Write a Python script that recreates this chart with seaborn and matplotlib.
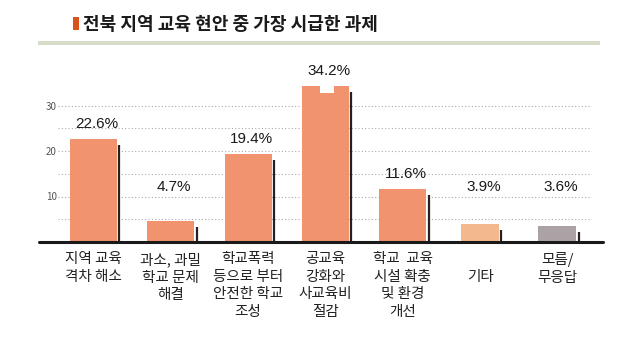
import matplotlib
matplotlib.use("Agg")
import matplotlib.pyplot as plt
from matplotlib.patches import Rectangle
import seaborn as sns
import pandas as pd

# ---- data ----
title = "전북 지역 교육 현안 중 가장 시급한 과제"
categories = [
    "지역 교육\n격차 해소",
    "과소, 과밀\n학교 문제\n해결",
    "학교폭력\n등으로 부터\n안전한 학교\n조성",
    "공교육\n강화와\n사교육비\n절감",
    "학교  교육\n시설 확충\n및 환경\n개선",
    "\n기타",
    "모름/\n무응답",
]
values = [22.6, 4.7, 19.4, 34.2, 11.6, 3.9, 3.6]
value_labels = ["22.6%", "4.7%", "19.4%", "34.2%", "11.6%", "3.9%", "3.6%"]
y_ticks = [10, 20, 30]

# ---- style ----
bar_colors = ["#F0936E", "#F0936E", "#F0936E", "#F0936E", "#F0936E", "#F3B98C", "#ABA2A5"]
bar_widths = [0.608, 0.608, 0.608, 0.608, 0.608, 0.49, 0.49]

sns.set_theme(style="white")
plt.rcParams["font.family"] = ["Noto Sans CJK KR", "DejaVu Sans"]

fig = plt.figure(figsize=(6.4, 3.38), dpi=100)
fig.patch.set_facecolor("white")
ax = fig.add_axes([58 / 640, (338 - 242) / 338, 534 / 640, 36 * 4.55 / 338])

df = pd.DataFrame({"cat": categories, "val": values})
sns.barplot(data=df, x="cat", y="val", hue="cat", palette=bar_colors,
            width=0.608, saturation=1, legend=False, ax=ax, linewidth=0)

ax.set_xlim(-0.459, 6.449)
ax.set_ylim(0, 36)

# adjust widths and add shadow lines, labels
patches = [c.patches[0] for c in ax.containers]
for i, (p, w, v, lab) in enumerate(zip(patches, bar_widths, values, value_labels)):
    cx = p.get_x() + p.get_width() / 2
    p.set_width(w)
    p.set_x(cx - w / 2)
    p.set_zorder(3)
    right = cx + w / 2
    ax.vlines(right + 0.032, 0, v - 1.3, color="#2a1f1f", lw=1.6, zorder=4)
    ax.text(cx + 0.045, max(v + 3.3, 12), lab, ha="center", va="center",
            fontsize=11, family=["Liberation Sans", "DejaVu Sans"], color="#1a1a1a")

# break notch on tallest bar
imax = values.index(max(values))
pm = patches[imax]
cxm = pm.get_x() + pm.get_width() / 2 + 0.02
ax.add_patch(Rectangle((cxm - 0.085, values[imax] - 1.55), 0.17, 2.0,
                       facecolor="white", edgecolor="none", zorder=3.5))

# axes styling
for s in ax.spines.values():
    s.set_visible(False)
ax.set_yticks(y_ticks)
ax.set_yticklabels([str(t) for t in y_ticks])
ax.set_yticks([5, 15, 25], minor=True)
ax.grid(axis="y", which="both", linestyle=(0, (1, 2)), color="#aaaaaa", lw=0.8)
ax.set_axisbelow(True)
ax.tick_params(axis="y", which="both", length=0, pad=1, labelsize=7, labelcolor="#555555")
ax.tick_params(axis="x", length=0, pad=7.5, labelsize=10.5, labelcolor="#222222")
for t in ax.get_xticklabels():
    t.set_linespacing(1.32)
    t.set_va("top")
ax.set_xlabel("")
ax.set_ylabel("")

# baseline
ax.axhline(0, xmin=(39 - 58) / 534, xmax=(603 - 58) / 534, clip_on=False,
           color="#1a1a1a", lw=2.2, zorder=5)

# title decorations
fig.add_artist(Rectangle((73 / 640, 1 - 30 / 338), 6 / 640, 13 / 338,
                         transform=fig.transFigure, facecolor="#D9531E", edgecolor="none"))
fig.text(83 / 640, 1 - 24 / 338, title, fontsize=13, fontweight="bold",
         va="center", ha="left", color="#1a1a1a",
         family=["Noto Sans CJK KR", "DejaVu Sans"])
fig.add_artist(Rectangle((38 / 640, 1 - 45 / 338), 562 / 640, 4 / 338,
                         transform=fig.transFigure, facecolor="#D5DDC9", edgecolor="none"))

fig.savefig("out.png", dpi=100)
